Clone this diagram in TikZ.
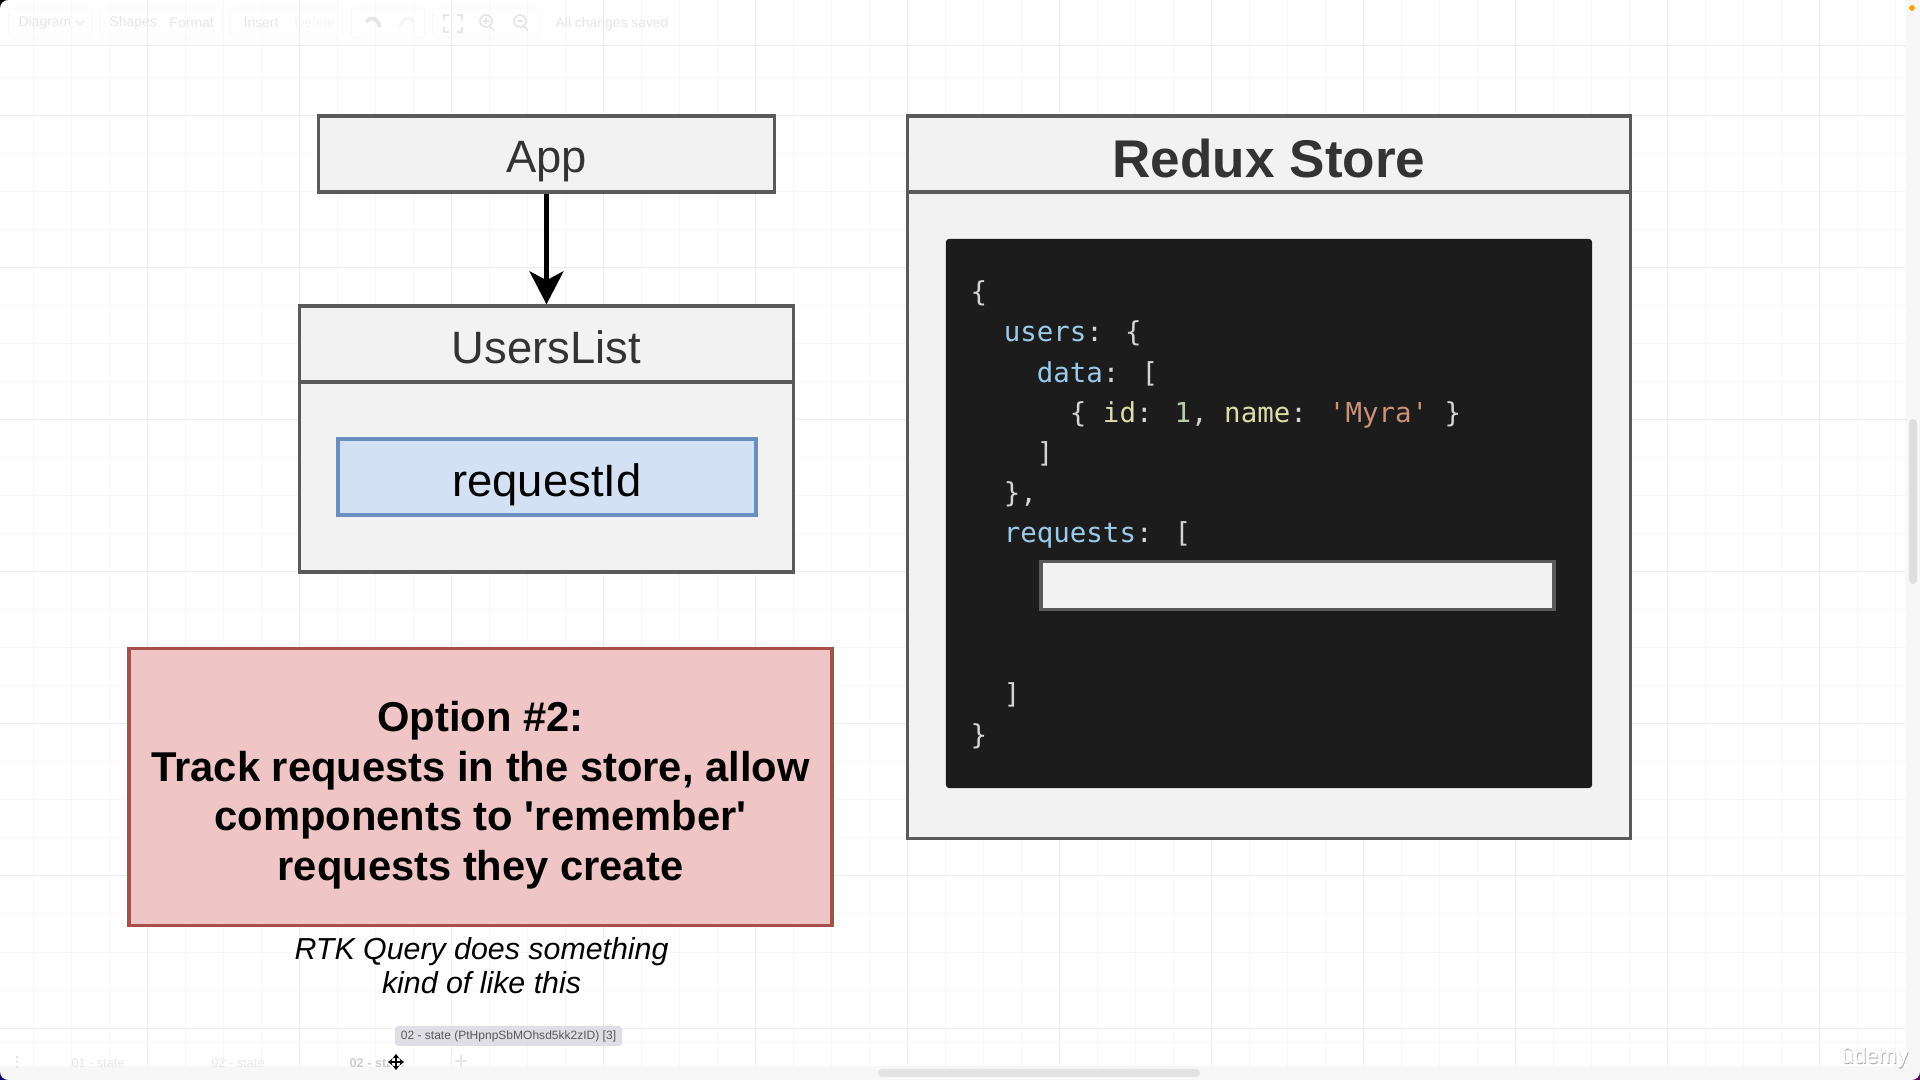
\documentclass[tikz,border=0pt]{standalone}
\usepackage{fontspec}
\setmainfont{Liberation Sans}
\newfontfamily\codefont{DejaVu Sans Mono}
\usetikzlibrary{arrows.meta, positioning}
\definecolor{boxline}{HTML}{5A5A5A}
\definecolor{boxfill}{HTML}{F2F2F2}
\definecolor{boxtext}{HTML}{333333}
\definecolor{reqfill}{HTML}{D4E1F5}
\definecolor{reqline}{HTML}{6C8EBF}
\definecolor{optfill}{HTML}{EFC5C5}
\definecolor{optline}{HTML}{A94F4B}
\definecolor{codebg}{HTML}{1C1C1C}
\definecolor{codekey}{HTML}{9CCBEA}
\definecolor{codeid}{HTML}{DCDCAA}
\definecolor{codenum}{HTML}{B5CEA8}
\definecolor{codestr}{HTML}{CE9178}
\definecolor{codepun}{HTML}{D4D4D4}
\definecolor{gridmajor}{HTML}{EDEDED}
\definecolor{gridminor}{HTML}{F7F7F7}
\definecolor{uifaint}{HTML}{E6E6E6}
\definecolor{tipfill}{HTML}{DEDEE4}
\newcommand{\ck}[1]{\textcolor{codekey}{#1}}
\newcommand{\ci}[1]{\textcolor{codeid}{#1}}
\begin{document}
\begin{tikzpicture}[
              x=0.01cm, y=-0.01cm,
              font=\fontsize{12.9}{15}\selectfont,
              plainbox/.style={draw=boxline, fill=boxfill, rectangle, line width=0.95pt, text=boxtext, inner sep=0pt, text depth=0pt},
              reqbox/.style={draw=reqline, fill=reqfill, rectangle, line width=0.95pt, text=black, inner sep=0pt, text depth=0pt},
              optbox/.style={draw=optline, fill=optfill, rectangle, line width=1pt, text=black, inner sep=0pt, align=center,
                             font=\fontsize{11.86}{14.1}\selectfont\bfseries},
              uitext/.style={text=uifaint, font=\fontsize{3.95}{5}\selectfont, anchor=west, inner sep=0pt},
              uibox/.style={draw=black!2, rectangle, rounded corners=1pt, line width=0.3pt},
              arr/.style={-{Stealth[length=33*0.01cm, width=34*0.01cm, inset=9*0.01cm]}, line width=1.25pt},
              curs/.style={black, line width=0.4pt, {Stealth[length=1.3pt, width=2pt]}-{Stealth[length=1.3pt, width=2pt]}}
            ]
              \useasboundingbox (0,0) rectangle (1920,1080);
              \fill[white] (0,0) rectangle (1920,1080);

              % grid
              \foreach \xx in {33,71,...,1900} \draw[gridminor, line width=0.28pt] (\xx,0) -- (\xx,1066);
              \foreach \yy in {78,116,...,1030} \draw[gridminor, line width=0.28pt] (0,\yy) -- (1906,\yy);
              \foreach \xx in {147,299,...,1900} \draw[gridmajor, line width=0.28pt] (\xx,0) -- (\xx,1066);
              \foreach \yy in {116,268,...,1030} \draw[gridmajor, line width=0.28pt] (0,\yy) -- (1906,\yy);
              \draw[gridmajor, line width=0.28pt] (0,46) -- (1906,46);
              \draw[gridminor, line width=0.28pt] (0,1042) -- (1906,1042);

              % window edges
              \fill[black!3] (1906,0) rectangle (1920,1080);
              \fill[black!3] (0,1066) rectangle (1920,1080);
              \fill[black!13, rounded corners=4*0.01cm] (1909,419) rectangle (1917,584);
              \fill[black!11, rounded corners=4*0.01cm] (878,1069) rectangle (1200,1077);
              \fill[black] (0,0) -- (8,0) arc[start angle=90, end angle=180, radius=8*0.01cm] -- cycle;
              \fill[blue!40!black] (0,1080) -- (8,1080) arc[start angle=270, end angle=180, radius=8*0.01cm] -- cycle;
              \fill[violet!70!black] (1920,1080) -- (1912,1080) arc[start angle=270, end angle=360, radius=8*0.01cm] -- cycle;
              \fill[orange!70!yellow] (1912,8) circle[radius=3*0.01cm];

              % toolbar
              \draw[uibox] (9,8) rectangle (92,37);
              \draw[uibox] (100,8) rectangle (222,37);
              \draw[uibox] (230,8) rectangle (343,37);
              \draw[uibox] (351,8) rectangle (425,37);
              \draw[uibox] (433,8) rectangle (541,37);
              \node[uitext] (diagram) at (18,23) {Diagram};
              \node[uitext] (shapes)  at (109,23) {Shapes};
              \node[uitext] (format)  at (169,23) {Format};
              \node[uitext] (insert)  at (243,23) {Insert};
              \node[uitext, text=black!4] (delete) at (294,23) {Delete};
              \node[uitext] (saved)   at (555,24) {All changes saved};
              \draw[uifaint, line width=0.3pt] (76,21) -- (80,25) -- (84,21);
              \draw[uifaint, line width=0.6pt] (444,20) |- (449,15) (457,15) -| (462,20) (462,27) |- (457,32) (449,32) -| (444,27);
              \draw[uifaint, line width=0.5pt] (486,21) circle[radius=6*0.01cm] (490,26) -- (494,31) (483,21) -- (489,21) (486,18) -- (486,24);
              \draw[uifaint, line width=0.5pt] (520,21) circle[radius=6*0.01cm] (524,26) -- (528,31) (517,21) -- (523,21);
              \draw[uifaint, line width=1pt] (366,22) .. controls (372,16) and (377,18) .. (380,27);
              \draw[black!4, line width=1pt] (414,22) .. controls (408,16) and (403,18) .. (400,27);

              % tabs
              \node[uitext, font=\fontsize{3.6}{4}\selectfont] (tabone) at (71,1063) {01 - state};
              \node[uitext, font=\fontsize{3.6}{4}\selectfont] (tabtwo) at (211,1063) {02 - state};
              \node[uitext, font=\fontsize{3.6}{4}\selectfont\bfseries, text=black!20] (tabthree) at (349,1063) {02 - state};
              \fill[uifaint] (16,1056) rectangle (18,1058) (16,1061) rectangle (18,1063) (16,1066) rectangle (18,1068);
              \draw[uifaint, line width=0.7pt] (455,1061) -- (467,1061) (461,1055) -- (461,1067);

              % diagram
              \node[plainbox, minimum width=4.56cm, minimum height=0.76cm, text height=0.38cm] (app) at (546.5,154) {App};
              \node[plainbox, minimum width=4.94cm, minimum height=1.9cm] (userbody) at (546.5,477) {};
              \node[plainbox, minimum width=4.94cm, minimum height=0.76cm, text height=0.38cm] (userslist) at (546.5,344) {UsersList};
              \node[reqbox, minimum width=4.18cm, minimum height=0.76cm, text height=0.38cm] (requestid) at (547,477) {requestId};
              \draw[arr] (app) -- (userslist);

              \node[optbox, minimum width=7.03cm, minimum height=2.77cm] (option) at (480.5,787)
                {\rule{0pt}{13.3pt}Option \#2:\\Track requests in the store, allow\\components to \textquotesingle remember\textquotesingle\\requests they create};
              \node[below=2.7pt of option, xshift=0.3pt, align=center, inner sep=0pt, font=\fontsize{8.63}{9.7}\selectfont\itshape] (note)
                {RTK Query does something\\kind of like this};

              \node[plainbox, minimum width=7.22cm, minimum height=6.46cm] (storebody) at (1269,515.5) {};
              \node[plainbox, minimum width=7.22cm, minimum height=0.76cm, text height=0.46cm, font=\fontsize{15.1}{18}\selectfont\bfseries] (store) at (1269,154) {Redux Store};
              \node[fill=codebg, rectangle, rounded corners=1pt, minimum width=6.46cm, minimum height=5.49cm, inner sep=0pt] (codebox) at (1269,513.5) {};
              \node[anchor=north west, align=left, inner sep=0pt, text=codepun,
                    font=\fontsize{7.81}{11.44}\selectfont\codefont] (code) at (970,280)
                {\{\\
                 ~~\ck{users}: \{\\
                 ~~~~\ck{data}: [\\
                 ~~~~~~\{ \ci{id}: \textcolor{codenum}{1}, \ci{name}: \textcolor{codestr}{\textquotesingle Myra\textquotesingle} \}\\
                 ~~~~]\\
                 ~~\},\\
                 ~~\ck{requests}: [\\
                 ~\\
                 ~\\
                 ~\\
                 ~~]\\
                 \}};
              \node[plainbox, minimum width=5.13cm, minimum height=0.48cm] (slot) at (1297.5,585.5) {};

              % overlays
              \node[fill=tipfill, text=black!65, rectangle, rounded corners=1pt, minimum width=2.27cm, minimum height=0.2cm, inner sep=0pt,
                    font=\fontsize{3.42}{4}\selectfont] (tooltip) at (508.5,1036) {02 - state (PtHpnpSbMOhsd5kk2zID) [3]};
              \node[anchor=center, text=black!35, inner sep=0pt, font=\fontsize{6.3}{8}\selectfont] (udemyshade) at (1875.7,1058.7) {ûdemy};
              \node[anchor=center, text=white, inner sep=0pt, font=\fontsize{6.3}{8}\selectfont] (udemy) at (1875,1058) {ûdemy};
              \fill[white] (396,1052) -- (406,1062) -- (396,1072) -- (386,1062) -- cycle;
              \draw[curs] (388,1062) -- (404,1062);
              \draw[curs] (396,1054) -- (396,1070);
            \end{tikzpicture}
\end{document}
